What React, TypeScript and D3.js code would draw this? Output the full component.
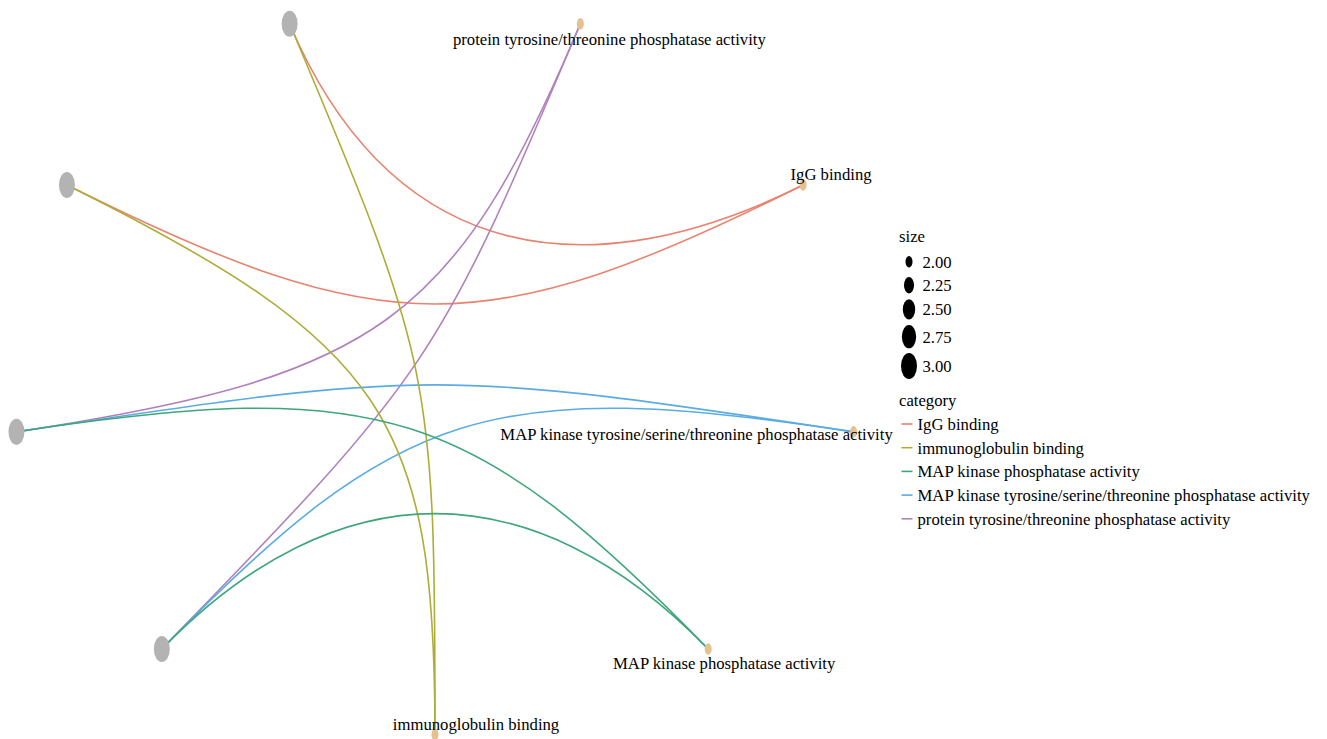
import React from "react";
import * as d3 from "d3";

// ---- data ----
const nodeNames = [
  "immunoglobulin binding",
  "MAP kinase phosphatase activity",
  "MAP kinase tyrosine/serine/threonine phosphatase activity",
  "IgG binding",
  "protein tyrosine/threonine phosphatase activity",
  "FCGR1A",
  "FCGR2B",
  "DUSP1",
  "DUSP6",
];
const nodeKinds = ["category", "category", "category", "category", "category", "gene", "gene", "gene", "gene"];
const nodeSizes = [2, 2, 2, 2, 2, 3, 3, 3, 3];

const edgeFrom = ["FCGR1A", "FCGR2B", "DUSP1", "DUSP6", "DUSP1", "DUSP6", "FCGR1A", "FCGR2B", "DUSP1", "DUSP6"];
const edgeTo = [
  "IgG binding",
  "IgG binding",
  "protein tyrosine/threonine phosphatase activity",
  "protein tyrosine/threonine phosphatase activity",
  "MAP kinase tyrosine/serine/threonine phosphatase activity",
  "MAP kinase tyrosine/serine/threonine phosphatase activity",
  "immunoglobulin binding",
  "immunoglobulin binding",
  "MAP kinase phosphatase activity",
  "MAP kinase phosphatase activity",
];

const categories = [
  "IgG binding",
  "immunoglobulin binding",
  "MAP kinase phosphatase activity",
  "MAP kinase tyrosine/serine/threonine phosphatase activity",
  "protein tyrosine/threonine phosphatase activity",
];
const categoryColors = ["#E9836F", "#ADAD38", "#3FA67B", "#5AACE2", "#B280BC"];

const sizeBreaks = [2.0, 2.25, 2.5, 2.75, 3.0];

// label nudges (repel result) in px
const labelNudgeX = [41, 16, -157, 28, 29];
const labelNudgeY = [-11, 14, 2, -11, 15];

const W = 1327;
const H = 739;
const FONT = "'Liberation Serif', 'Times New Roman', serif";
const FS = 16.7;

export default function App() {
  const x = d3.scaleLinear().domain([-1, 1]).range([10, 860]);
  const y = d3.scaleLinear().domain([-1, 1]).range([734.7, 1.7]);
  const color = d3.scaleOrdinal<string, string>().domain(categories).range(categoryColors);
  const rxScale = (v: number) => Math.sqrt(d3.scaleLinear().domain([2, 3]).range([12.5, 64])(v));
  const aspect = 1.63;

  const n = nodeNames.length;
  const pos = nodeNames.map((_, i) => {
    const a = -Math.PI / 2 + (2 * Math.PI * i) / n;
    return [Math.cos(a), Math.sin(a)];
  });
  const idx = (name: string) => nodeNames.indexOf(name);

  const edges = edgeFrom.map((f, i) => {
    const p0 = pos[idx(f)];
    const p3 = pos[idx(edgeTo[i])];
    const c = Math.hypot(p3[0] - p0[0], p3[1] - p0[1]) / 2;
    const c1 = [p0[0] * (1 - c), p0[1] * (1 - c)];
    const c2 = [p3[0] * (1 - c), p3[1] * (1 - c)];
    const p = d3.path();
    p.moveTo(x(p0[0]), y(p0[1]));
    p.bezierCurveTo(x(c1[0]), y(c1[1]), x(c2[0]), y(c2[1]), x(p3[0]), y(p3[1]));
    return { d: p.toString(), cat: edgeTo[i] };
  });
  const drawOrder = ["IgG binding", "protein tyrosine/threonine phosphatase activity", "MAP kinase tyrosine/serine/threonine phosphatase activity", "immunoglobulin binding", "MAP kinase phosphatase activity"];
  const sortedEdges = [...edges].sort((a, b) => drawOrder.indexOf(a.cat) - drawOrder.indexOf(b.cat));

  const sizeLegendY = [261.7, 285.3, 309.3, 336.7, 366];
  const catLegendY0 = 424;
  const catLegendStep = 23.7;

  return (
    <svg width={W} height={H} style={{ position: "absolute", left: 0, top: 0, background: "#fff" }} fontFamily={FONT}>
      <rect width={W} height={H} fill="#fff" />
      <g>
        {sortedEdges.map((e, i) => (
          <path key={i} d={e.d} fill="none" stroke={color(e.cat)} strokeWidth={1.6} />
        ))}
      </g>
      <g>
        {nodeNames.map((nm, i) => {
          const rx = rxScale(nodeSizes[i]);
          return (
            <ellipse
              key={nm}
              cx={x(pos[i][0])}
              cy={y(pos[i][1])}
              rx={rx}
              ry={rx * aspect}
              fill={nodeKinds[i] === "gene" ? "#B3B3B3" : "#E5C18F"}
            />
          );
        })}
      </g>
      <g fontSize={FS} fill="#000">
        {nodeNames.map((nm, i) =>
          nodeKinds[i] === "category" ? (
            <text key={nm} x={x(pos[i][0]) + labelNudgeX[i]} y={y(pos[i][1]) + labelNudgeY[i]} dy="0.35em" textAnchor="middle">
              {nm}
            </text>
          ) : null
        )}
      </g>
      {/* size legend */}
      <g fontSize={FS}>
        <text x={899} y={236} dy="0.35em">size</text>
        {sizeBreaks.map((s, i) => {
          const rx = rxScale(s);
          return (
            <g key={s}>
              <ellipse cx={909} cy={sizeLegendY[i]} rx={rx} ry={rx * aspect} fill="#000" />
              <text x={922.5} y={sizeLegendY[i]} dy="0.35em">{s.toFixed(2)}</text>
            </g>
          );
        })}
      </g>
      {/* category legend */}
      <g fontSize={FS}>
        <text x={899} y={400} dy="0.35em">category</text>
        {categories.map((c, i) => {
          const cy = catLegendY0 + i * catLegendStep;
          return (
            <g key={c}>
              <line x1={901.5} x2={912.5} y1={cy} y2={cy} stroke={color(c)} strokeWidth={1.6} />
              <text x={917.5} y={cy} dy="0.35em">{c}</text>
            </g>
          );
        })}
      </g>
    </svg>
  );
}
